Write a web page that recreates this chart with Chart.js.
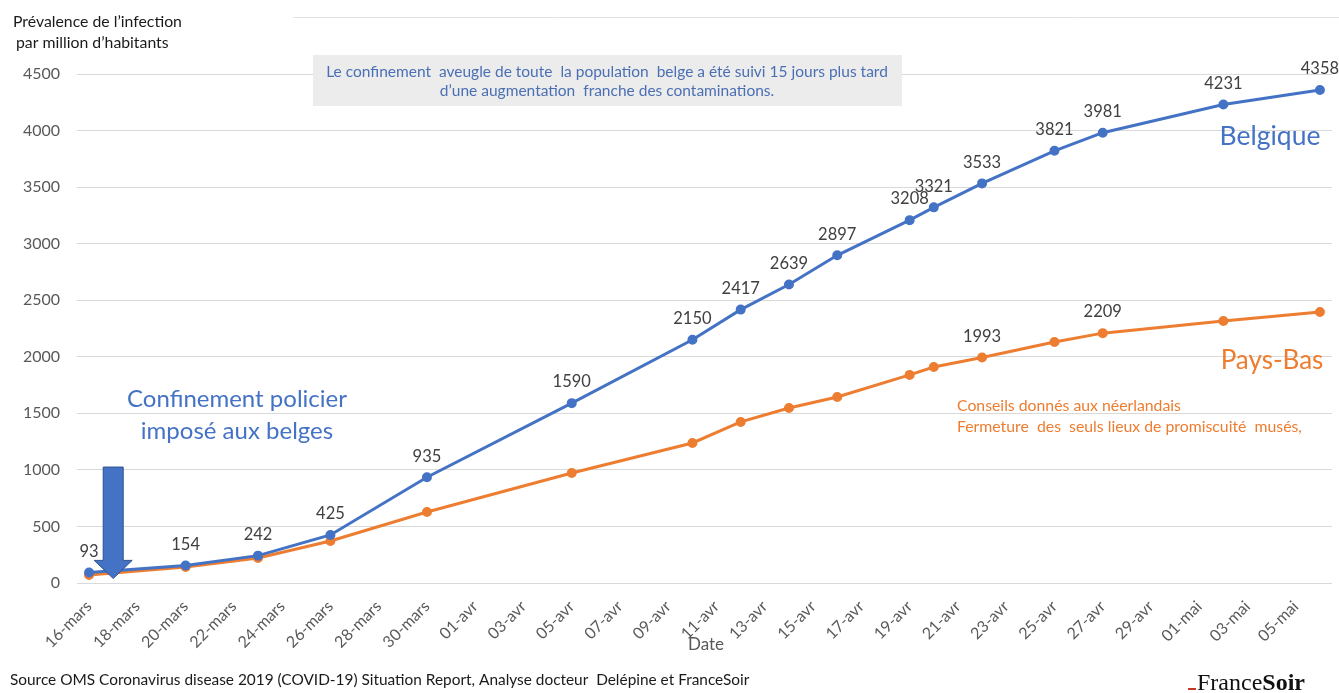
<!DOCTYPE html>
<html>
<head>
<meta charset="utf-8">
<script src="https://cdn.jsdelivr.net/npm/chart.js@4/dist/chart.umd.min.js"></script>
<style>
  html, body { margin: 0; padding: 0; background: #fff; }
  #wrap { width: 1339px; height: 693px; }
</style>
</head>
<body>
<div id="wrap"><canvas id="c"></canvas></div>
<script>
// one category per day, 16 mars -> 6 mai
var days = [
  '16-mars','17-mars','18-mars','19-mars','20-mars','21-mars','22-mars','23-mars','24-mars','25-mars',
  '26-mars','27-mars','28-mars','29-mars','30-mars','31-mars','01-avr','02-avr','03-avr','04-avr',
  '05-avr','06-avr','07-avr','08-avr','09-avr','10-avr','11-avr','12-avr','13-avr','14-avr',
  '15-avr','16-avr','17-avr','18-avr','19-avr','20-avr','21-avr','22-avr','23-avr','24-avr',
  '25-avr','26-avr','27-avr','28-avr','29-avr','30-avr','01-mai','02-mai','03-mai','04-mai',
  '05-mai','06-mai'
];
var reportDays = ['16-mars','20-mars','23-mars','26-mars','30-mars','05-avr','10-avr','12-avr','14-avr',
  '16-avr','19-avr','20-avr','22-avr','25-avr','27-avr','02-mai','06-mai'];
var belgique = [93, 154, 242, 425, 935, 1590, 2150, 2417, 2639, 2897, 3208, 3321, 3533, 3821, 3981, 4231, 4358];
var paysBas  = [70, 141, 221, 371, 628, 973, 1238, 1424, 1547, 1645, 1840, 1910, 1993, 2131, 2209, 2316, 2396];
var paysBasLabelled = ['22-avr', '27-avr'];
var yTicks = [0, 500, 1000, 1500, 2000, 2500, 3000, 3500, 4000, 4500];

var BLUE = '#4472c4', ORANGE = '#ed7d31', FONT = 'Lato';

function pts(vals) {
  return reportDays.map(function (d, i) { return { x: d, y: vals[i] }; });
}

// values written above the points
var valueLabels = {
  id: 'valueLabels',
  afterDatasetsDraw: function (chart) {
    var ctx = chart.ctx;
    ctx.save();
    ctx.font = '16.5px ' + FONT;
    ctx.fillStyle = '#404040';
    ctx.textAlign = 'center';
    ctx.textBaseline = 'middle';
    chart.data.datasets.forEach(function (ds, di) {
      var meta = chart.getDatasetMeta(di);
      meta.data.forEach(function (p, i) {
        var raw = ds.data[i];
        if (ds.onlyLabels && ds.onlyLabels.indexOf(raw.x) < 0) return;
        ctx.fillText(String(raw.y), p.x, p.y - 21);
      });
    });
    ctx.restore();
  }
};

// notes, arrow, titles and source line
var notes = {
  id: 'notes',
  beforeDatasetsDraw: function (chart) {
    var ctx = chart.ctx;
    ctx.save();
    ctx.fillStyle = '#ececec';
    ctx.fillRect(313, 55, 589, 51);
    ctx.restore();
  },
  afterDraw: function (chart) {
    var ctx = chart.ctx, x = chart.scales.x, y = chart.scales.y;
    ctx.save();

    // faint frame line at the top
    ctx.strokeStyle = '#e3e3e3';
    ctx.lineWidth = 1;
    ctx.beginPath(); ctx.moveTo(293, 17.5); ctx.lineTo(1339, 17.5); ctx.stroke();

    // y axis title
    ctx.fillStyle = '#1a1a1a';
    ctx.font = '15.8px ' + FONT;
    ctx.textAlign = 'left';
    ctx.textBaseline = 'middle';
    ctx.fillText('Prévalence de l\u2019infection', 13, 22);
    ctx.fillText('par million d\u2019habitants', 16, 43);

    // boxed note
    ctx.fillStyle = '#4a6fb3';
    ctx.font = '15.5px ' + FONT;
    ctx.textAlign = 'center';
    ctx.fillText('Le confinement  aveugle de toute  la population  belge a été suivi 15 jours plus tard', 607, 72);
    ctx.fillText('d\u2019une augmentation  franche des contaminations.', 607, 91);

    // lockdown arrow
    var ax = x.getPixelForValue('17-mars');
    var top = y.getPixelForValue(1025), neck = y.getPixelForValue(200), tip = y.getPixelForValue(40);
    ctx.beginPath();
    ctx.moveTo(ax - 10, top); ctx.lineTo(ax + 10, top); ctx.lineTo(ax + 10, neck);
    ctx.lineTo(ax + 19, neck); ctx.lineTo(ax, tip); ctx.lineTo(ax - 19, neck);
    ctx.lineTo(ax - 10, neck); ctx.closePath();
    ctx.fillStyle = BLUE; ctx.fill();
    ctx.strokeStyle = '#2f528f'; ctx.lineWidth = 1; ctx.stroke();

    ctx.fillStyle = BLUE;
    ctx.font = '24px ' + FONT;
    ctx.fillText('Confinement policier', 237, 399);
    ctx.fillText('imposé aux belges', 237, 431);

    ctx.font = '26.5px ' + FONT;
    ctx.fillText('Belgique', 1270, 136);
    ctx.fillStyle = ORANGE;
    ctx.font = '26px ' + FONT;
    ctx.fillText('Pays-Bas', 1272, 361);

    ctx.font = '15.8px ' + FONT;
    ctx.textAlign = 'left';
    ctx.fillText('Conseils donnés aux néerlandais', 957, 406);
    ctx.fillText('Fermeture  des  seuls lieux de promiscuité  musés,', 957, 427);

    // x axis title
    ctx.fillStyle = '#595959';
    ctx.font = '17px ' + FONT;
    ctx.textAlign = 'center';
    ctx.fillText('Date', 706, 645);

    // source
    ctx.fillStyle = '#1a1a1a';
    ctx.font = '15.4px ' + FONT;
    ctx.textAlign = 'left';
    ctx.fillText('Source OMS Coronavirus disease 2019 (COVID-19) Situation Report, Analyse docteur  Delépine et FranceSoir', 10, 680);

    // FranceSoir mark
    ctx.fillStyle = '#c0392b';
    ctx.fillRect(1188, 688, 8, 2);
    ctx.textBaseline = 'alphabetic';
    ctx.fillStyle = '#111';
    ctx.font = '24px "Liberation Serif"';
    ctx.fillText('France', 1197, 690);
    var w = ctx.measureText('France').width;
    ctx.font = 'bold 24px "Liberation Serif"';
    ctx.fillText('Soir', 1197 + w, 690);
    ctx.restore();
  }
};

new Chart(document.getElementById('c'), {
  type: 'line',
  data: {
    labels: days,
    datasets: [
      { label: 'Belgique', data: pts(belgique), borderColor: BLUE, backgroundColor: BLUE,
        borderWidth: 3, pointRadius: 3.5, tension: 0 },
      { label: 'Pays-Bas', data: pts(paysBas), borderColor: ORANGE, backgroundColor: ORANGE,
        borderWidth: 3, pointRadius: 3.5, tension: 0, onlyLabels: paysBasLabelled }
    ]
  },
  options: {
    responsive: true,
    maintainAspectRatio: false,
    animation: false,
    layout: { padding: { top: 74, right: 1, left: 0, bottom: 0 } },
    plugins: { legend: { display: false }, tooltip: { enabled: false } },
    scales: {
      x: {
        type: 'category',
        offset: true,
        grid: { display: false },
        border: { display: false },
        ticks: {
          autoSkip: false, minRotation: 45, maxRotation: 45, padding: 6,
          color: '#595959', font: { family: FONT, size: 16 },
          callback: function (v, i) { return i % 2 === 0 ? this.getLabelForValue(v) : null; }
        },
        afterFit: function (s) { s.height = 110; }
      },
      y: {
        min: 0, max: 4500,
        afterBuildTicks: function (s) { s.ticks = yTicks.map(function (v) { return { value: v }; }); },
        grid: { color: '#d9d9d9', drawTicks: false },
        border: { display: false },
        ticks: {
          color: '#595959', padding: 17, font: { family: FONT, size: 16 },
          callback: function (v) { return String(v); }
        },
        afterFit: function (s) { s.width = 77; }
      }
    }
  },
  plugins: [valueLabels, notes]
});
</script>
</body>
</html>
